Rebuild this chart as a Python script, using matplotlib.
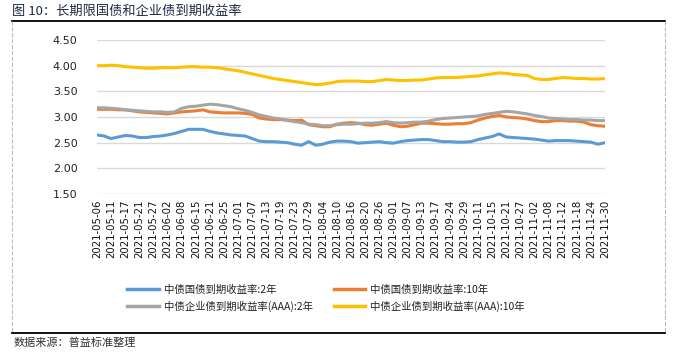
import numpy as np
import matplotlib
matplotlib.use("Agg")
import matplotlib.pyplot as plt
from matplotlib.lines import Line2D

plt.rcParams['font.family'] = ['Noto Sans CJK SC', 'DejaVu Sans']

# ---- data ----
tick_labels = ["2021-05-06", "2021-05-11", "2021-05-17", "2021-05-21", "2021-05-27",
               "2021-06-02", "2021-06-08", "2021-06-15", "2021-06-21", "2021-06-25",
               "2021-07-01", "2021-07-07", "2021-07-13", "2021-07-19", "2021-07-23",
               "2021-07-29", "2021-08-04", "2021-08-10", "2021-08-16", "2021-08-20",
               "2021-08-26", "2021-09-01", "2021-09-07", "2021-09-13", "2021-09-17",
               "2021-09-24", "2021-09-29", "2021-10-11", "2021-10-15", "2021-10-21",
               "2021-10-27", "2021-11-02", "2021-11-08", "2021-11-12", "2021-11-18",
               "2021-11-24", "2021-11-30"]

gov_2y = [2.65, 2.63, 2.58, 2.61, 2.64, 2.63, 2.60, 2.60, 2.62, 2.63,
          2.65, 2.68, 2.72, 2.76, 2.76, 2.76, 2.72, 2.69, 2.67, 2.65,
          2.64, 2.63, 2.58, 2.53, 2.52, 2.52, 2.51, 2.50, 2.47, 2.45,
          2.52, 2.45, 2.47, 2.51, 2.53, 2.53, 2.52, 2.49, 2.50, 2.51,
          2.52, 2.50, 2.49, 2.52, 2.54, 2.55, 2.56, 2.56, 2.54, 2.52,
          2.52, 2.51, 2.51, 2.52, 2.56, 2.59, 2.62, 2.67, 2.61, 2.60,
          2.59, 2.58, 2.57, 2.55, 2.53, 2.54, 2.54, 2.54, 2.53, 2.52,
          2.51, 2.47, 2.50]

gov_10y = [3.15, 3.15, 3.15, 3.14, 3.14, 3.12, 3.10, 3.09, 3.08, 3.07,
           3.06, 3.08, 3.10, 3.11, 3.12, 3.14, 3.10, 3.09, 3.08, 3.08,
           3.08, 3.07, 3.05, 2.98, 2.96, 2.95, 2.95, 2.94, 2.93, 2.94,
           2.85, 2.83, 2.81, 2.81, 2.86, 2.88, 2.89, 2.88, 2.85, 2.84,
           2.86, 2.88, 2.84, 2.81, 2.82, 2.85, 2.88, 2.88, 2.87, 2.86,
           2.86, 2.87, 2.87, 2.89, 2.94, 2.98, 3.01, 3.03, 3.00, 2.99,
           2.98, 2.96, 2.93, 2.91, 2.91, 2.93, 2.93, 2.92, 2.92, 2.90,
           2.85, 2.83, 2.82]

corp_2y = [3.18, 3.18, 3.17, 3.16, 3.14, 3.13, 3.12, 3.11, 3.10, 3.10,
           3.09, 3.10, 3.17, 3.20, 3.21, 3.23, 3.25, 3.24, 3.22, 3.20,
           3.16, 3.13, 3.09, 3.04, 3.01, 2.98, 2.96, 2.93, 2.91, 2.89,
           2.86, 2.85, 2.83, 2.83, 2.85, 2.86, 2.86, 2.87, 2.88, 2.88,
           2.89, 2.91, 2.89, 2.88, 2.89, 2.90, 2.90, 2.92, 2.95, 2.97,
           2.98, 2.99, 3.00, 3.01, 3.02, 3.05, 3.07, 3.09, 3.11, 3.10,
           3.08, 3.06, 3.03, 3.01, 2.98, 2.97, 2.96, 2.95, 2.95, 2.94,
           2.94, 2.93, 2.93]

corp_10y = [4.00, 4.00, 4.01, 4.00, 3.98, 3.97, 3.96, 3.95, 3.95, 3.96,
            3.96, 3.96, 3.97, 3.98, 3.98, 3.97, 3.97, 3.96, 3.94, 3.92,
            3.90, 3.87, 3.84, 3.81, 3.78, 3.75, 3.73, 3.71, 3.69, 3.67,
            3.65, 3.63, 3.64, 3.66, 3.69, 3.70, 3.70, 3.70, 3.69, 3.69,
            3.71, 3.73, 3.72, 3.71, 3.71, 3.72, 3.72, 3.74, 3.76, 3.77,
            3.77, 3.77, 3.78, 3.79, 3.80, 3.82, 3.84, 3.86, 3.85, 3.83,
            3.82, 3.81, 3.75, 3.73, 3.73, 3.75, 3.77, 3.76, 3.75, 3.75,
            3.74, 3.74, 3.75]

series_names = ["中债国债到期收益率:2年", "中债国债到期收益率:10年",
                "中债企业债到期收益率(AAA):2年", "中债企业债到期收益率(AAA):10年"]
colors = ["#5B9BD5", "#ED7D31", "#A5A5A5", "#FFC000"]

# ---- figure ----
fig = plt.figure(figsize=(6.78, 3.53), dpi=100)
W, H = 678, 353
ax = fig.add_axes([97 / W, 1 - 194 / H, (605 - 97) / W, (194 - 40) / H])

n_days = (len(tick_labels) - 1) * 4 + 1
x = np.arange(0, n_days, 2)
series = [gov_2y, gov_10y, corp_2y, corp_10y]
for vals, name, c in zip(series, series_names, colors):
    ax.plot(x, vals, color=c, lw=2.2, label=name, solid_capstyle='round')

ax.set_xlim(0, n_days - 1)
ax.set_ylim(1.5, 4.5)
ax.set_yticks(np.arange(1.5, 4.51, 0.5))
ax.set_yticklabels([f"{v:.2f}" for v in np.arange(1.5, 4.51, 0.5)],
                   fontsize=8, family='DejaVu Sans', color='#222222')
ax.set_xticks(np.arange(0, n_days, 4))
ax.set_xticklabels(tick_labels, rotation=90, fontsize=7.3, family='DejaVu Sans',
                   color='#111111')
ax.grid(axis='y', color='#D9D9D9', lw=1)
ax.set_axisbelow(True)
for s in ax.spines.values():
    s.set_visible(False)
ax.tick_params(axis='both', length=0, pad=4)
ax.tick_params(axis='y', pad=14)

# legend (row-wise order: 国债2年, 国债10年 / 企业2年, 企业10年)
order = [0, 2, 1, 3]
handles = [Line2D([0], [0], color=colors[i], lw=2.5) for i in order]
labels = [series_names[i] for i in order]
leg = fig.legend(handles, labels, ncol=2, loc='upper left',
                 bbox_to_anchor=(118 / W, 1 - 275 / H), frameon=False,
                 fontsize=7.5, handlelength=3.0, columnspacing=2.0,
                 labelspacing=0.55, handletextpad=0.5)
for t in leg.get_texts():
    t.set_color('#222222')

# title and frame
fig.text(12 / W, 1 - 11 / H, "图 10：长期限国债和企业债到期收益率", fontsize=9.5,
         va='center', ha='left', color='#1F2A44')
fig.add_artist(Line2D([12 / W, 665 / W], [1 - 21 / H, 1 - 21 / H], color='black', lw=1.3))
fig.add_artist(Line2D([12 / W, 665 / W], [1 - 333 / H, 1 - 333 / H], color='black', lw=1.3))
fig.add_artist(Line2D([12 / W, 12 / W], [1 - 21 / H, 1 - 333 / H], color='#BBBBBB', lw=0.8, ls='--'))
fig.add_artist(Line2D([665 / W, 665 / W], [1 - 21 / H, 1 - 333 / H], color='#BBBBBB', lw=0.8, ls='--'))
fig.text(14 / W, 1 - 343 / H, "数据来源：普益标准整理", fontsize=8, va='center',
         ha='left', color='#333333')

fig.savefig("out.png", dpi=100)
